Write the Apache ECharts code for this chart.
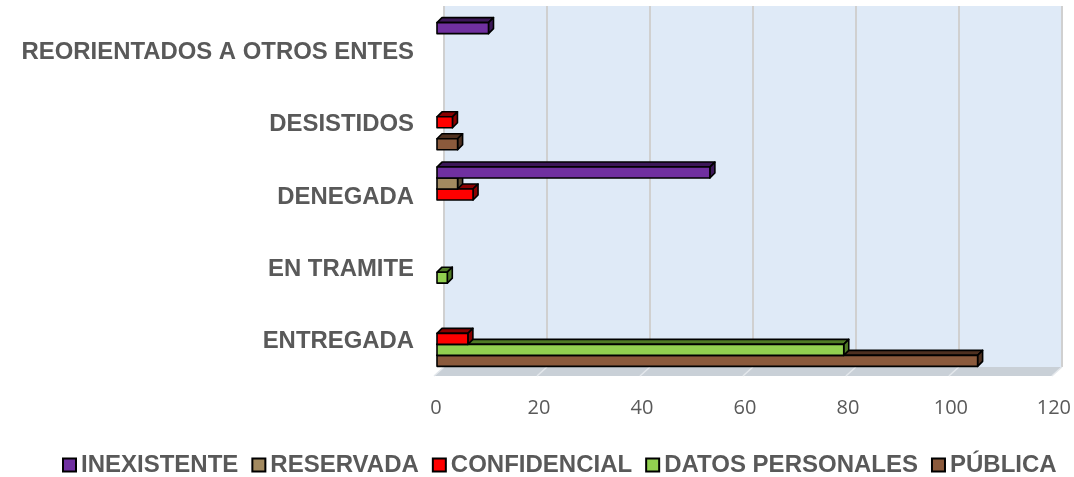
<!DOCTYPE html>
<html>
<head>
<meta charset="utf-8">
<script src="https://cdn.jsdelivr.net/npm/echarts@6/dist/echarts.min.js"></script>
<style>
  html, body { margin: 0; padding: 0; background: #fff; }
  #chart { width: 1074px; height: 477px; }
</style>
</head>
<body>
<div id="chart"></div>
<script>
  // categorias, de abajo hacia arriba
  const categorias = ['ENTREGADA', 'EN TRAMITE', 'DENEGADA', 'DESISTIDOS', 'REORIENTADOS A OTROS ENTES'];
  const publica = [105, 0, 0, 4, 0];
  const datosPersonales = [79, 2, 0, 0, 0];
  const confidencial = [6, 0, 7, 3, 0];
  const reservada = [0, 0, 4, 0, 0];
  const inexistente = [0, 0, 53, 0, 10];
  const xTicks = [0, 20, 40, 60, 80, 100, 120];
  const leyenda = ['INEXISTENTE', 'RESERVADA', 'CONFIDENCIAL', 'DATOS PERSONALES', 'PÚBLICA'];

  // orden de las barras dentro de cada grupo (de abajo hacia arriba)
  const series = [
    { name: 'PÚBLICA', data: publica, color: '#8b5a3c', dark: '#4e3020' },
    { name: 'DATOS PERSONALES', data: datosPersonales, color: '#92d050', dark: '#4f7a25' },
    { name: 'CONFIDENCIAL', data: confidencial, color: '#ff0000', dark: '#8a0000' },
    { name: 'RESERVADA', data: reservada, color: '#a38a60', dark: '#5c4c32' },
    { name: 'INEXISTENTE', data: inexistente, color: '#7030a0', dark: '#3c1758' }
  ];

  const chart = echarts.init(document.getElementById('chart'));

  // barra con efecto 3D (cara frontal, superior y lateral)
  function barra3D(slot, s) {
    return function (params, api) {
      const v = api.value(0);
      if (!v) return null;
      const c = api.value(1);
      const p0 = api.coord([0, c]);
      const p1 = api.coord([v, c]);
      const h = api.size([0, 1])[1] * 0.152;
      const bottom = p0[1] + 8 + h * 2.5 - slot * h;
      const top = bottom - h;
      const x0 = p0[0] - 7, x1 = p1[0] - 7;
      const d = 5;
      const borde = { stroke: '#000', lineWidth: 1.6, lineJoin: 'round' };
      return {
        type: 'group',
        children: [
          { type: 'polygon', shape: { points: [[x0, top], [x0 + d, top - d], [x1 + d, top - d], [x1, top]] },
            style: Object.assign({ fill: s.dark }, borde) },
          { type: 'polygon', shape: { points: [[x1, top], [x1 + d, top - d], [x1 + d, bottom - d], [x1, bottom]] },
            style: Object.assign({ fill: s.dark }, borde) },
          { type: 'rect', shape: { x: x0, y: top, width: x1 - x0, height: h },
            style: Object.assign({ fill: s.color }, borde) }
        ]
      };
    };
  }

  // piso gris bajo la pared del fondo
  function piso(params, api) {
    const cs = params.coordSys;
    const yb = cs.y + cs.height;
    const children = [{
      type: 'polygon',
      shape: { points: [[cs.x, yb], [cs.x + cs.width, yb], [cs.x + cs.width - 10, yb + 9], [cs.x - 10, yb + 9]] },
      style: { fill: '#c9d0d7' }
    }];
    xTicks.forEach(function (t) {
      const x = api.coord([t, 0])[0];
      children.push({ type: 'line', shape: { x1: x, y1: yb, x2: x - 10, y2: yb + 9 },
        style: { stroke: '#e4e8ec', lineWidth: 1.5 } });
    });
    return { type: 'group', children: children };
  }

  const seriesOpts = series.map(function (s, i) {
    return {
      name: s.name,
      type: 'custom',
      renderItem: barra3D(i, s),
      encode: { x: 0, y: 1 },
      itemStyle: { color: s.color },
      data: s.data.map(function (v, k) { return [v, k]; }),
      z: 3
    };
  });
  seriesOpts.unshift({
    name: 'piso',
    type: 'custom',
    renderItem: piso,
    data: [[0, 0]],
    encode: { x: 0, y: 1 },
    silent: true,
    z: 1
  });

  chart.setOption({
    animation: false,
    backgroundColor: '#fff',
    grid: {
      left: 444, right: 12, top: 6, bottom: 110,
      show: true, backgroundColor: '#dfeaf7', borderWidth: 0
    },
    legend: {
      data: leyenda,
      left: 57, top: 448,
      itemWidth: 13, itemHeight: 13, itemGap: 13,
      icon: 'rect',
      itemStyle: { borderColor: '#000', borderWidth: 2 },
      textStyle: { fontFamily: 'Liberation Sans', fontWeight: 'bold', fontSize: 24, color: '#595959' }
    },
    xAxis: {
      type: 'value', min: 0, max: 120, interval: 20,
      axisLine: { show: false }, axisTick: { show: false },
      splitLine: { show: true, lineStyle: { color: '#d0d0d0', width: 2 } },
      axisLabel: { fontFamily: 'Open Sans', fontSize: 20, color: '#595959', margin: 31, padding: [0, 16, 0, 0] }
    },
    yAxis: {
      type: 'category', data: categorias,
      axisLine: { show: false }, axisTick: { show: false }, splitLine: { show: false },
      axisLabel: { fontFamily: 'Liberation Sans', fontWeight: 'bold', fontSize: 23.9, color: '#595959', margin: 30,
        verticalAlign: 'top', lineHeight: 21 }
    },
    series: seriesOpts
  });
</script>
</body>
</html>
